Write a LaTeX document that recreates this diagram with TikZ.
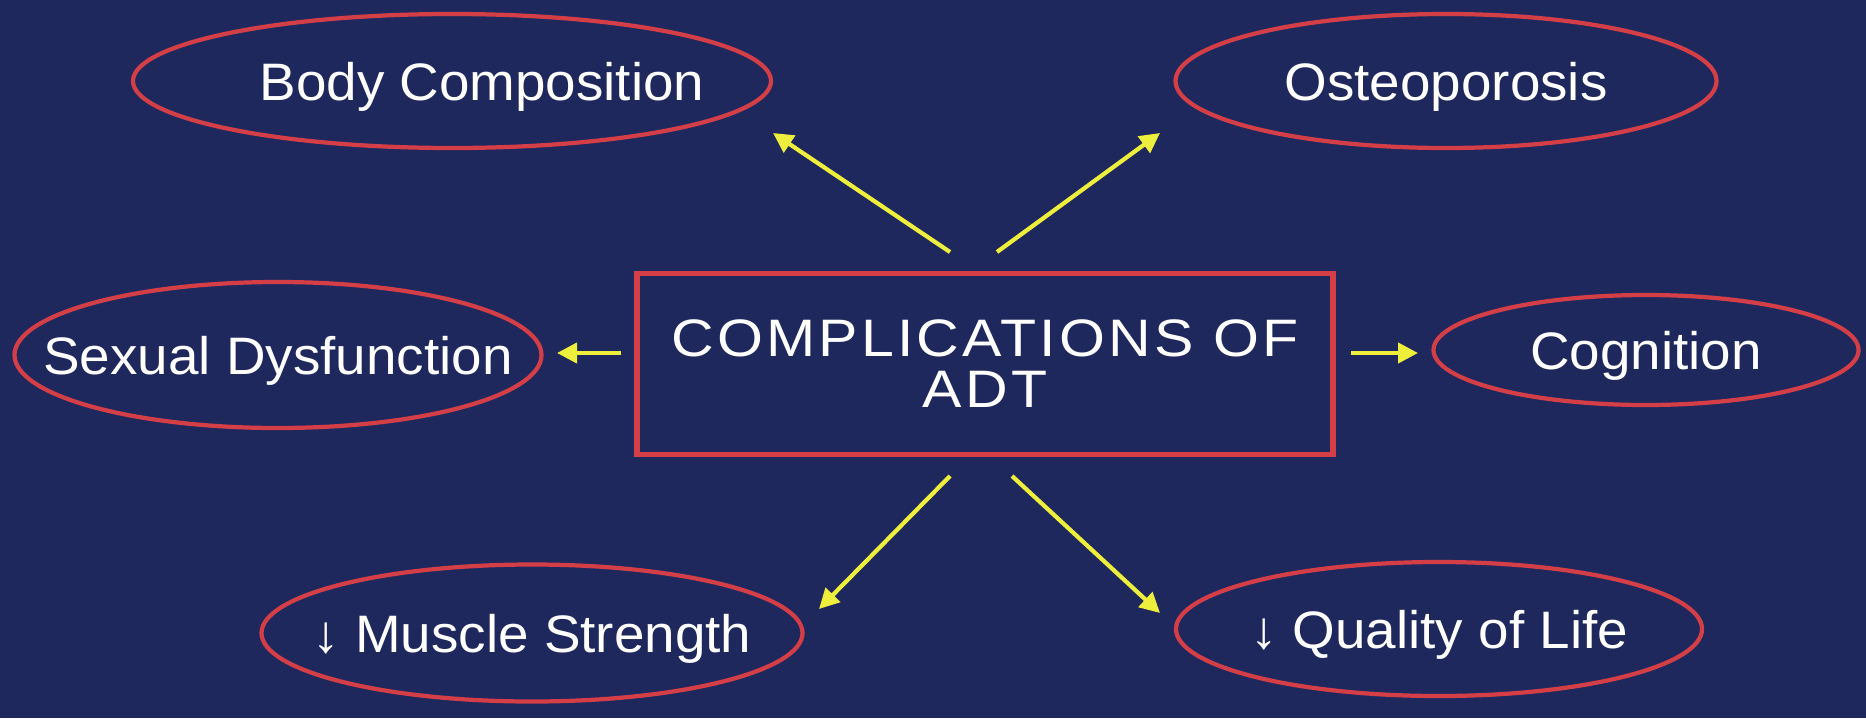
\documentclass[tikz,border=0pt]{standalone}
\usepackage{fontspec}
\setmainfont{Liberation Sans}
\newfontfamily\adtlabelfamily[FakeStretch=1.04]{Liberation Sans}
\newfontfamily\adttitlefamily[FakeStretch=1.12, LetterSpace=6]{Liberation Sans}
\usetikzlibrary{shapes.geometric,arrows.meta}

\definecolor{adtnavy}{RGB}{31,40,92}
\definecolor{adtred}{RGB}{212,62,70}
\definecolor{adtyellow}{RGB}{238,238,60}

\newcommand\adtlabelfont{\adtlabelfamily\fontsize{15}{17}\selectfont}
\newcommand\adttitlefont{\adttitlefamily\fontsize{15}{14.5}\selectfont}

\tikzset{
  adtbox/.style={draw=adtred, line width=1.5pt, text=white, align=center,
    minimum width=6.96cm, minimum height=1.81cm, font=\adttitlefont},
  adtring/.style={ellipse, draw=adtred, line width=1.2pt, text=white,
    inner xsep=-0.6cm, inner ysep=0pt, text depth=0pt, font=\adtlabelfont},
  adtarrow/.style={draw=adtyellow, line width=1.2pt,
    -{Triangle[length=0.2cm, width=0.2cm]}},
}

\begin{document}
\begin{tikzpicture}
    \fill[adtnavy] (0, 0) rectangle (18.66, 7.18) ;
    \useasboundingbox (0, 0) rectangle (18.66, 7.18) ;

    % centre box
    \node[adtbox] (adt) at (9.85, 3.54) {COMPLICATIONS OF\\ADT} ;

    % outcomes
    \node[adtring, minimum width=6.38cm, minimum height=1.34cm] (body)
      at (4.52, 6.37) {\hspace*{0.6cm}Body Composition} ;
    \node[adtring, minimum width=5.41cm, minimum height=1.34cm] (osteo)
      at (14.46, 6.37) {Osteoporosis} ;
    \node[adtring, minimum width=5.27cm, minimum height=1.46cm] (sexual)
      at (2.78, 3.63) {Sexual Dysfunction} ;
    \node[adtring, minimum width=4.25cm, minimum height=1.10cm] (cog)
      at (16.46, 3.68) {Cognition} ;
    \node[adtring, minimum width=5.41cm, minimum height=1.37cm] (muscle)
      at (5.32, 0.85) {↓ Muscle Strength} ;
    \node[adtring, minimum width=5.26cm, minimum height=1.34cm] (qol)
      at (14.39, 0.89) {↓ Quality of Life} ;

    % arrow ends
    \coordinate (frombody) at (9.50, 4.66) ;
    \coordinate (tobody) at (7.73, 5.85) ;
    \coordinate (fromosteo) at (9.97, 4.66) ;
    \coordinate (toosteo) at (11.60, 5.85) ;
    \coordinate (fromsexual) at (6.21, 3.65) ;
    \coordinate (tosexual) at (5.57, 3.65) ;
    \coordinate (fromcog) at (13.51, 3.65) ;
    \coordinate (tocog) at (14.18, 3.65) ;
    \coordinate (frommuscle) at (9.50, 2.42) ;
    \coordinate (tomuscle) at (8.19, 1.09) ;
    \coordinate (fromqol) at (10.12, 2.42) ;
    \coordinate (toqol) at (11.60, 1.05) ;

    \foreach \t in {body, osteo, sexual, cog, muscle, qol}
      \draw[adtarrow] (from\t) -- (to\t) ;
\end{tikzpicture}
\end{document}
